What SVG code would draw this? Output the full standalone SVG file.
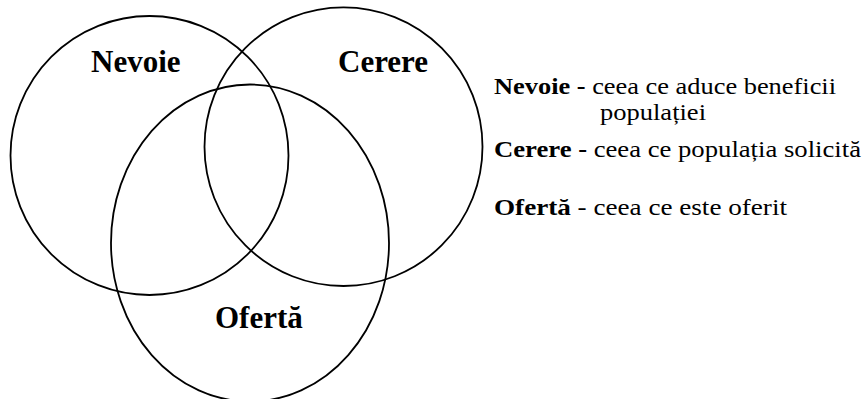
<svg xmlns="http://www.w3.org/2000/svg" width="864" height="399" viewBox="0 0 864 399">
<style>
.c{fill:none;stroke:#000;stroke-width:1.8}
.big{font-family:"Liberation Serif","Times New Roman",serif;font-weight:bold;font-size:31px;fill:#000}
.t{font-family:"Liberation Serif","Times New Roman",serif;font-size:24px;fill:#000}
.b{font-weight:bold}
</style>
<rect width="864" height="399" fill="#fff"/>
<g id="nevoie">
<ellipse class="c" cx="149.5" cy="155.5" rx="139" ry="139.5"/>
<text class="big" x="91" y="72">Nevoie</text>
</g>
<g id="cerere">
<ellipse class="c" cx="343.5" cy="146.7" rx="139" ry="139.3"/>
<text class="big" x="338" y="72">Cerere</text>
</g>
<g id="oferta">
<ellipse class="c" cx="250" cy="243" rx="139" ry="158.5"/>
<text class="big" x="215" y="328">Ofertă</text>
</g>
<g id="legend">
<text class="t" x="494" y="94" textLength="342" lengthAdjust="spacingAndGlyphs"><tspan class="b">Nevoie -</tspan> ceea ce aduce beneficii</text>
<text class="t" x="600" y="120" textLength="106" lengthAdjust="spacingAndGlyphs">populației</text>
<text class="t" x="494" y="157" textLength="367" lengthAdjust="spacingAndGlyphs"><tspan class="b">Cerere -</tspan> ceea ce populația solicită</text>
<text class="t" x="494" y="215" textLength="293" lengthAdjust="spacingAndGlyphs"><tspan class="b">Ofertă </tspan> - ceea ce este oferit</text>
</g>
<g id="connectors"/>
</svg>
